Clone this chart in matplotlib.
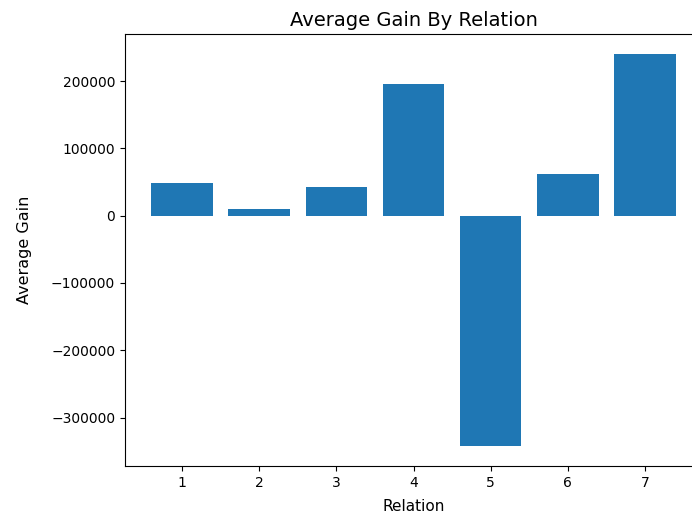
import matplotlib
matplotlib.use("Agg")
import matplotlib.pyplot as plt

relations = [1, 2, 3, 4, 5, 6, 7]
avg_gain = [49300, 9400, 42300, 196000, -342800, 61700, 240800]

fig = plt.figure(figsize=(6.92, 5.16), dpi=100)
ax = fig.add_axes([125/692, 50/516, 577/692, 432/516])
ax.bar(relations, avg_gain, color="#1f77b4")
ax.set_title("Average Gain By Relation", fontsize=14)
ax.set_xlabel("Relation", fontsize=11, labelpad=7)
ax.set_ylabel("Average Gain", fontsize=11.5, labelpad=14)
fig.savefig("out.png", dpi=100)
